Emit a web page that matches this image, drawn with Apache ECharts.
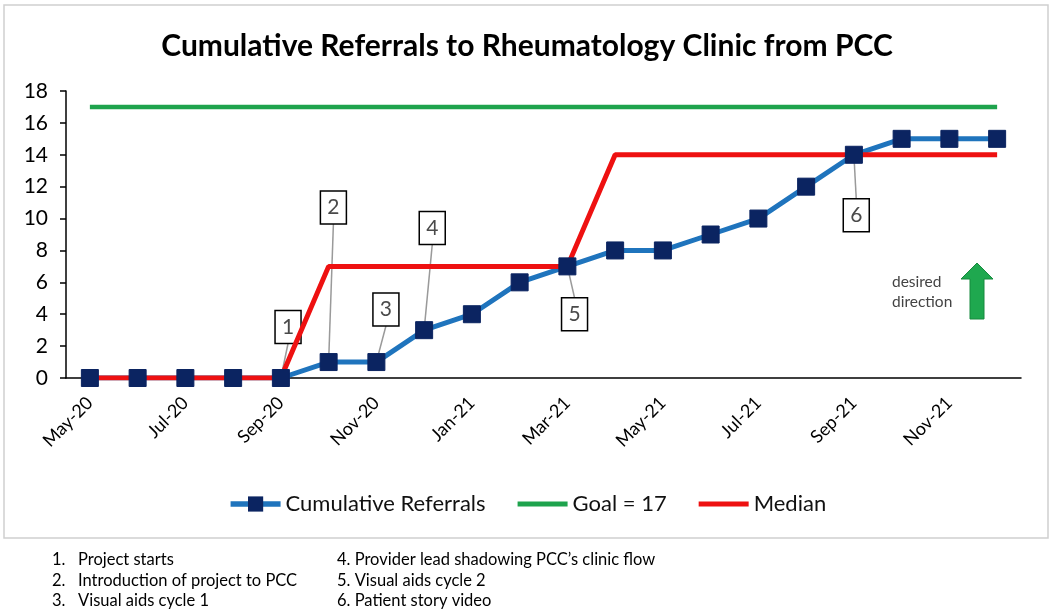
<!DOCTYPE html>
<html>
<head>
<meta charset="utf-8">
<script src="https://cdn.jsdelivr.net/npm/echarts@6/dist/echarts.min.js"></script>
<style>
  html, body { margin: 0; padding: 0; background: #fff; }
  #main { width: 1054px; height: 613px; }
</style>
</head>
<body>
<div id="main"></div>
<script>
// monthly categories and values
var months = ['May-20', 'Jun-20', 'Jul-20', 'Aug-20', 'Sep-20', 'Oct-20', 'Nov-20', 'Dec-20',
  'Jan-21', 'Feb-21', 'Mar-21', 'Apr-21', 'May-21', 'Jun-21', 'Jul-21', 'Aug-21',
  'Sep-21', 'Oct-21', 'Nov-21', 'Dec-21'];
var cumulative = [0, 0, 0, 0, 0, 1, 1, 3, 4, 6, 7, 8, 8, 9, 10, 12, 14, 15, 15, 15];
var goal = [17, 17, 17, 17, 17, 17, 17, 17, 17, 17, 17, 17, 17, 17, 17, 17, 17, 17, 17, 17];
var median = [0, 0, 0, 0, 0, 7, 7, 7, 7, 7, 7, 14, 14, 14, 14, 14, 14, 14, 14, 14];

// numbered call-outs: which month they point at, and where the box sits
var noteIds = ['1', '2', '3', '4', '5', '6'];
var noteMonth = ['Sep-20', 'Oct-20', 'Nov-20', 'Dec-20', 'Mar-21', 'Sep-21'];
var noteBoxValue = [3.2, 10.7, 4.3, 9.4, 4.0, 10.2];
var noteShift = [0.15, 0.1, 0.2, 0.17, 0.15, 0.05];

var footNums = ['1.', '2.', '3.'];
var footLeft = ['Project starts', 'Introduction of project to PCC', 'Visual aids cycle 1'];
var footRight = ['4. Provider lead shadowing PCC\u2019s clinic flow', '5. Visual aids cycle 2', '6. Patient story video'];

var FONT = 'Lato, "Open Sans", sans-serif';
var LINE_ICON = 'path://M0,0L50,0L50,5L0,5Z';

var myChart = echarts.init(document.getElementById('main'));

var option = {
  backgroundColor: '#fff',
  animation: false,
  textStyle: { fontFamily: FONT },
  title: {
    text: 'Cumulative Referrals to Rheumatology Clinic from PCC',
    left: 'center',
    top: 26,
    textStyle: { fontFamily: FONT, fontSize: 30, fontWeight: 'bold', color: '#000' }
  },
  legend: {
    top: 488,
    left: 'center',
    itemWidth: 50,
    itemHeight: 19,
    itemGap: 32,
    textStyle: { fontFamily: FONT, fontSize: 22, color: '#111' },
    data: [
      { name: 'Cumulative Referrals', lineStyle: { width: 5.5 } },
      { name: 'Goal = 17', icon: LINE_ICON },
      { name: 'Median', icon: LINE_ICON }
    ]
  },
  grid: { left: 66, right: 33, top: 91, bottom: 235 },
  xAxis: {
    type: 'category',
    data: months,
    boundaryGap: true,
    axisLine: { lineStyle: { color: '#000', width: 1.5 } },
    axisTick: { interval: 1, length: 6, lineStyle: { color: '#000', width: 1.5 } },
    axisLabel: { interval: 1, rotate: 45, margin: 22, fontSize: 18, color: '#000', fontFamily: FONT }
  },
  yAxis: {
    type: 'value',
    min: 0,
    max: 18,
    interval: 2,
    splitLine: { show: false },
    axisLine: { show: true, lineStyle: { color: '#000', width: 1.5 } },
    axisTick: { show: true, length: 6, lineStyle: { color: '#000', width: 1.5 } },
    axisLabel: { fontSize: 21, color: '#000', margin: 18, fontFamily: FONT }
  },
  series: [
    {
      name: 'Cumulative Referrals',
      type: 'line',
      data: cumulative,
      symbol: 'rect',
      symbolSize: 17,
      lineStyle: { color: '#1f74bd', width: 5 },
      itemStyle: { color: '#0b2461', borderColor: '#0b2461' }
    },
    {
      name: 'Goal = 17',
      type: 'line',
      data: goal,
      symbol: 'none',
      lineStyle: { color: '#1ea34d', width: 4.5 },
      itemStyle: { color: '#1ea34d' }
    },
    {
      name: 'Median',
      type: 'line',
      data: median,
      symbol: 'none',
      lineStyle: { color: '#ee1111', width: 5 },
      itemStyle: { color: '#ee1111' }
    }
  ]
};

myChart.setOption(option);

// 标注框和连接线：位置通过坐标轴换算出来
function buildGraphics() {
  var els = [];
  // outer frame around the chart
  els.push({
    type: 'rect', z: -10, silent: true,
    shape: { x: 4, y: 5, width: 1044, height: 533 },
    style: { fill: null, stroke: '#d0d0d0', lineWidth: 1.5 }
  });
  var boxW = 26, boxH = 33;
  for (var i = 0; i < noteIds.length; i++) {
    var idx = months.indexOf(noteMonth[i]);
    var p0 = myChart.convertToPixel({ xAxisIndex: 0, yAxisIndex: 0 }, [idx, cumulative[idx]]);
    var p1 = myChart.convertToPixel({ xAxisIndex: 0, yAxisIndex: 0 }, [idx + 1, noteBoxValue[i]]);
    var step = p1[0] - p0[0];
    var cx = p0[0] + step * noteShift[i];
    var cy = p1[1];
    var edgeY = cy < p0[1] ? cy + boxH / 2 : cy - boxH / 2;
    els.push({
      type: 'line', z: 1, silent: true,
      shape: { x1: cx, y1: edgeY, x2: p0[0], y2: p0[1] },
      style: { stroke: '#9a9a9a', lineWidth: 1.5 }
    });
    els.push({
      type: 'rect', z: 1, silent: true,
      shape: { x: cx - boxW / 2, y: cy - boxH / 2, width: boxW, height: boxH },
      style: { fill: '#fff', stroke: '#000', lineWidth: 1.5 }
    });
    els.push({
      type: 'text', z: 1, silent: true,
      x: cx, y: cy,
      style: { text: noteIds[i], fill: '#4a4a4a', font: '21px ' + FONT, align: 'center', verticalAlign: 'middle' }
    });
  }
  // desired direction note with green arrow
  els.push({
    type: 'text', silent: true, x: 892, y: 292,
    style: { text: 'desired\ndirection', fill: '#444', font: '15.5px ' + FONT, lineHeight: 20, verticalAlign: 'middle' }
  });
  els.push({
    type: 'polygon', silent: true,
    shape: { points: [[977, 263], [993, 279], [984, 279], [984, 319], [970, 319], [970, 279], [961, 279]] },
    style: { fill: '#1fa84f', stroke: '#178a3e', lineWidth: 1 }
  });
  // footnotes below the frame
  for (var j = 0; j < footLeft.length; j++) {
    var fy = 560 + j * 20.5;
    els.push({
      type: 'text', silent: true, x: 52, y: fy,
      style: { text: footNums[j], fill: '#000', font: '16.5px ' + FONT, verticalAlign: 'middle' }
    });
    els.push({
      type: 'text', silent: true, x: 78, y: fy,
      style: { text: footLeft[j], fill: '#000', font: '16.5px ' + FONT, verticalAlign: 'middle' }
    });
    els.push({
      type: 'text', silent: true, x: 337, y: fy,
      style: { text: footRight[j], fill: '#000', font: '16.5px ' + FONT, verticalAlign: 'middle' }
    });
  }
  myChart.setOption({ graphic: { elements: els } });
}

buildGraphics();
</script>
</body>
</html>
